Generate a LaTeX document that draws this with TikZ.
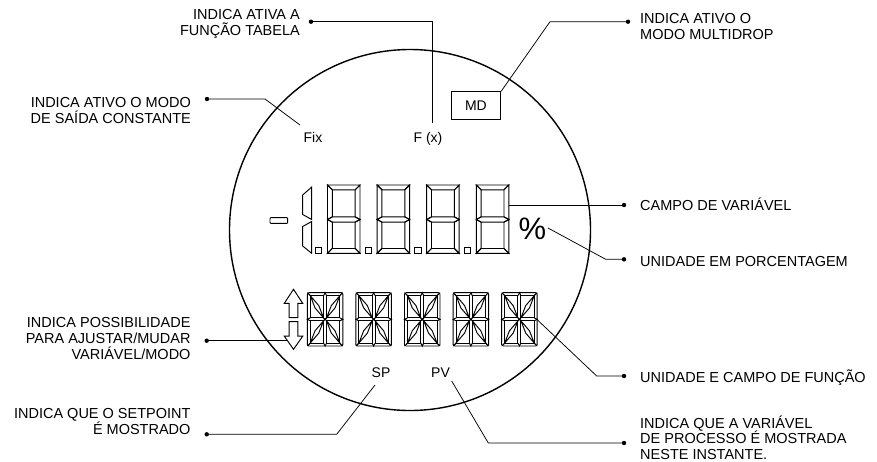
\documentclass[tikz,border=0pt]{standalone}
\usepackage{fontspec}
\setmainfont{Liberation Sans}
\usetikzlibrary{calc}
\tikzset{
  lbl/.style={inner sep=0pt, font=\fontsize{14.5}{16.3}\selectfont},
  small/.style={inner sep=0pt, font=\fontsize{14}{16}\selectfont},
  lead/.style={line width=0.75pt},
  seg/.style={line width=0.95pt, line join=miter},
  sevenseg/.pic={
    \draw[seg] (0,0) -- (32.5,0) -- (27.7,4.8) -- (4.8,4.8) -- cycle;
    \draw[seg] (0,0) -- (4.8,4.8) -- (4.8,31.9) -- (0,34.5) -- cycle;
    \draw[seg] (32.5,0) -- (27.7,4.8) -- (27.7,31.9) -- (32.5,34.5) -- cycle;
    \draw[seg] (0,34.5) -- (4.8,31.9) -- (27.7,31.9) -- (32.5,34.5) -- (27.7,37.1) -- (4.8,37.1) -- cycle;
    \draw[seg] (0,34.5) -- (4.8,37.1) -- (4.8,63.5) -- (0,68.3) -- cycle;
    \draw[seg] (32.5,34.5) -- (27.7,37.1) -- (27.7,63.5) -- (32.5,68.3) -- cycle;
    \draw[seg] (0,68.3) -- (4.8,63.5) -- (27.7,63.5) -- (32.5,68.3) -- cycle;
    \coordinate (-east) at (32.5,20);
  },
  alnum/.pic={
    \draw[seg, rounded corners=1.5pt] (0,0) rectangle (35.5,53.3);
    \draw[seg] (3,3) rectangle (16.25,25.15);
    \draw[seg] (19.25,3) rectangle (32.5,25.15);
    \draw[seg] (3,28.15) rectangle (16.25,50.3);
    \draw[seg] (19.25,28.15) rectangle (32.5,50.3);
    \draw[seg] (0,0) -- (3,3) (35.5,0) -- (32.5,3) (0,53.3) -- (3,50.3) (35.5,53.3) -- (32.5,50.3);
    \draw[seg] (3,25.15) -- (0,26.65) -- (3,28.15) (32.5,25.15) -- (35.5,26.65) -- (32.5,28.15);
    \draw[seg] (16.25,3) -- (17.75,0) -- (19.25,3) (16.25,50.3) -- (17.75,53.3) -- (19.25,50.3);
    \draw[seg] (16.25,25.15) -- (19.25,28.15) (19.25,25.15) -- (16.25,28.15);
    \draw[seg] (3,3) -- (7.74,15.2) -- (16.25,25.15) -- (11.51,12.95) -- cycle;
    \draw[seg] (32.5,3) -- (27.76,15.2) -- (19.25,25.15) -- (23.99,12.95) -- cycle;
    \draw[seg] (3,50.3) -- (7.74,38.1) -- (16.25,28.15) -- (11.51,40.35) -- cycle;
    \draw[seg] (32.5,50.3) -- (27.76,38.1) -- (19.25,28.15) -- (23.99,40.35) -- cycle;
    \coordinate (-east) at (35.5,27);
  }
}
\begin{document}
\begin{tikzpicture}[x=1pt,y=-1pt]
\useasboundingbox (0,0) rectangle (877,461);

% display outline
\node[draw, circle, line width=1.4pt, minimum size=361pt, inner sep=0pt] (disp) at (410,230) {};

% numeric field
\draw[seg, rounded corners=0.8pt] (270,217.7) rectangle (287.7,223.3);
\coordinate (minus) at (278.8,220.5);
\draw[seg] (311.7,187) -- (302.7,195) -- (302.7,214.5) -- (311.7,219.5) -- cycle;
\draw[seg] (311.7,221.5) -- (302.7,226.5) -- (302.7,246) -- (311.7,253.3) -- cycle;
\foreach \i/\x in {1/327.5,2/377.1,3/426.7,4/476.3} {
  \pic (n\i) at (\x,185) {sevenseg};
  \draw[seg] (\x-11.8,247.2) rectangle (\x-5.6,253.3);
}
\node[inner sep=0pt, font=\fontsize{31}{31}\selectfont, anchor=base west] (pct) at (518.3,239.3) {\%};

% alphanumeric field
\draw[seg] (293.5,289.3) -- (302.7,303.3) -- (297.8,303.3) -- (297.8,317.7) -- (289.2,317.7) -- (289.2,303.3) -- (284.3,303.3) -- cycle;
\draw[seg] (289.2,321.7) -- (297.8,321.7) -- (297.8,336.2) -- (302.7,336.2) -- (293.5,349.3) -- (284.3,336.2) -- (289.2,336.2) -- cycle;
\coordinate (arrL) at (287.4,340.7);
\foreach \i/\x in {1/307.3,2/355.9,3/404.5,4/453.1,5/501.7} {
  \pic (a\i) at (\x,292.7) {alnum};
}

% small indicators
\node[small, anchor=base] (fix) at (313,142) {Fix};
\node[small, anchor=base] (fx) at (428,142.5) {F (x)};
\node[small, draw, line width=0.8pt, minimum width=49.7pt, minimum height=27.6pt] (md) at (475.9,105.5) {MD};
\node[small, anchor=base] (sp) at (381,377.3) {SP};
\node[small, anchor=base] (pv) at (440.5,377.3) {PV};

% labels
\node[lbl, anchor=north east, align=right] (tFx) at (300,9) {INDICA ATIVA A\\FUNÇÃO TABELA};
\node[lbl, anchor=north east, align=right] (tFix) at (191,96.7) {INDICA ATIVO O MODO\\DE SAÍDA CONSTANTE};
\node[lbl, anchor=north west, align=left] (tMD) at (640,13.3) {INDICA ATIVO O\\MODO MULTIDROP};
\node[lbl, anchor=base west] (tCV) at (640,210.7) {CAMPO DE VARIÁVEL};
\node[lbl, anchor=base west] (tPct) at (640,266) {UNIDADE EM PORCENTAGEM};
\node[lbl, anchor=north east, align=right] (tArr) at (190.7,316.7) {INDICA POSSIBILIDADE\\PARA AJUSTAR/MUDAR\\VARIÁVEL/MODO};
\node[lbl, anchor=base west] (tUF) at (640,382.3) {UNIDADE E CAMPO DE FUNÇÃO};
\node[lbl, anchor=north east, align=right] (tSP) at (190.7,408.3) {INDICA QUE O SETPOINT\\É MOSTRADO};
\node[lbl, anchor=north west, align=left, font=\fontsize{14.5}{15.8}\selectfont] (tPV) at (640,415.3) {INDICA QUE A VARIÁVEL\\DE PROCESSO É MOSTRADA\\NESTE INSTANTE.};

% leader dots and bends
\coordinate (dFx) at (311,21.7);   \coordinate (bFx) at (432.5,21.7); \coordinate (eFx) at (432.5,123);
\coordinate (dFix) at (207,99);    \coordinate (bFix) at (265,99);    \coordinate (eFix) at (300,125);
\coordinate (dMD) at (628,21.7);   \coordinate (bMD) at (550,21.7);
\coordinate (dCV) at (624,205);
\coordinate (dPct) at (624,259.3); \coordinate (bPct) at (605.7,259.3); \coordinate (ePct) at (548,228);
\coordinate (dArr) at (206.7,340.7);
\coordinate (dUF) at (624,376);    \coordinate (bUF) at (596.7,376);
\coordinate (dSP) at (206.7,434.3); \coordinate (bSP) at (336.7,434.3); \coordinate (eSP) at (375,385);
\coordinate (dPV) at (624,443);    \coordinate (bPV) at (488.3,443);  \coordinate (ePV) at (451.7,381);

\draw[lead] (dFx) -- (bFx) -- (eFx);
\draw[lead] (dFix) -- (bFix) -- (eFix);
\draw[lead] (dMD) -- (bMD) -- (md.north east);
\draw[lead] (n4-east) -- (dCV);
\draw[lead] (ePct) -- (bPct) -- (dPct);
\draw[lead] (dArr) -- (arrL);
\draw[lead] (a5-east) -- (bUF) -- (dUF);
\draw[lead] (dSP) -- (bSP) -- (eSP);
\draw[lead] (dPV) -- (bPV) -- (ePV);

\foreach \d in {dFx,dFix,dMD,dCV,dPct,dArr,dUF,dSP,dPV}
  \fill (\d) circle[radius=2.2pt];
\end{tikzpicture}
\end{document}
